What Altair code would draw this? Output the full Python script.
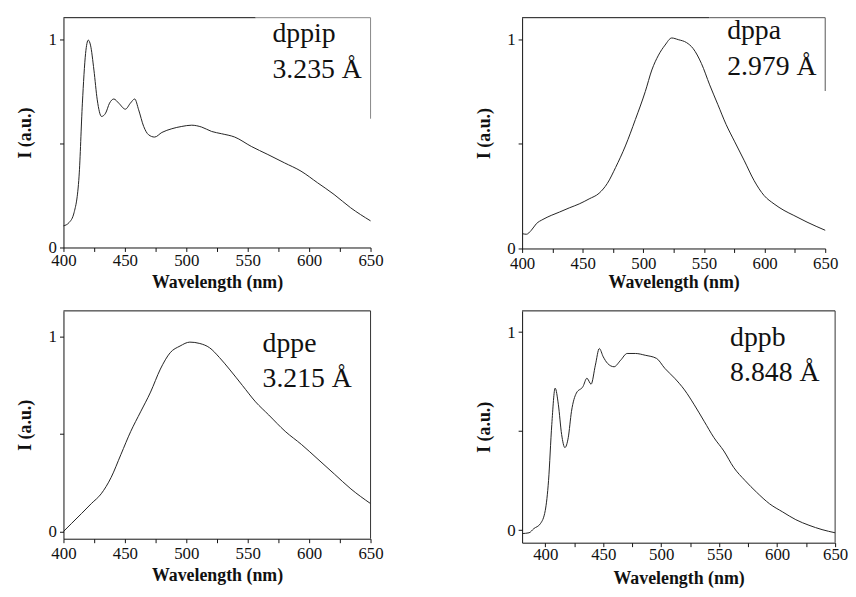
import altair as alt
import pandas as pd

# ---------- data ----------
dppip_wl = [400, 404.6, 408.6, 412.7, 415.4, 418, 420.2, 422, 424.8, 427.5, 431, 434.3, 437.5, 441, 445,
            450.4, 454.5, 458, 461.2, 465.3, 469.3, 474.2, 480.1, 488.2, 496.3, 504.4, 512.5, 520.6, 528.7,
            539.4, 552.9, 566.4, 579.9, 593.4, 606.9, 620.3, 633.8, 650]
dppip_i = [0.104, 0.12, 0.167, 0.343, 0.694, 0.933, 0.997, 0.973, 0.853, 0.71, 0.63, 0.646, 0.694, 0.714, 0.694,
           0.665, 0.694, 0.714, 0.662, 0.582, 0.542, 0.531, 0.553, 0.571, 0.582, 0.588, 0.579, 0.558, 0.547,
           0.531, 0.486, 0.447, 0.407, 0.367, 0.311, 0.255, 0.191, 0.128]

dppa_wl = [400, 403.5, 407.6, 411.7, 417.2, 424, 430.8, 438.9, 447.1, 455.3, 463.5, 470.3, 477.1, 485.2, 493.4,
           501.6, 507, 512.5, 517.9, 523.4, 528.8, 535.6, 541, 547.9, 554.7, 561.5, 568.3, 575.1, 583.3, 591.4,
           599.6, 607.8, 616, 624.1, 635, 650]
dppa_i = [0.071, 0.068, 0.087, 0.118, 0.139, 0.158, 0.174, 0.194, 0.213, 0.237, 0.264, 0.311, 0.387, 0.49, 0.616,
          0.75, 0.853, 0.924, 0.972, 1.006, 0.998, 0.984, 0.956, 0.884, 0.782, 0.687, 0.592, 0.513, 0.419, 0.324,
          0.253, 0.213, 0.182, 0.158, 0.126, 0.087]

dppe_wl = [400, 406.7, 414.7, 422.7, 430.7, 438.8, 446.8, 454.8, 462.8, 470.9, 478.9, 486.9, 494.9, 502.9, 511,
           519, 527, 535, 545.7, 556.4, 567.1, 580.5, 593.9, 607.2, 620.6, 634, 650]
dppe_i = [0.0, 0.042, 0.092, 0.143, 0.193, 0.277, 0.395, 0.513, 0.613, 0.714, 0.832, 0.916, 0.95, 0.97, 0.963,
          0.941, 0.891, 0.832, 0.748, 0.664, 0.597, 0.513, 0.445, 0.37, 0.294, 0.218, 0.143]

dppb_wl = [380, 386, 390.1, 395.8, 400, 402.8, 405.6, 408.5, 411.3, 414.1, 416.9, 419.8, 422.6, 426.8, 432.5,
           435.9, 439.5, 443.2, 446.6, 450, 453.7, 459.3, 465, 470.6, 477.7, 486.2, 496, 503.1, 511.6, 520.1,
           528.5, 537, 545.5, 554, 562.5, 572.4, 582.2, 593.5, 604.8, 616.1, 627.4, 638.7, 650]
dppb_i = [-0.017, -0.013, 0.008, 0.033, 0.1, 0.25, 0.533, 0.717, 0.633, 0.483, 0.417, 0.467, 0.6, 0.692, 0.725,
          0.767, 0.737, 0.833, 0.917, 0.875, 0.842, 0.825, 0.858, 0.892, 0.892, 0.883, 0.867, 0.817, 0.767, 0.708,
          0.633, 0.55, 0.467, 0.4, 0.317, 0.25, 0.192, 0.133, 0.092, 0.053, 0.025, 0.003, -0.013]

names = ["dppip", "dppa", "dppe", "dppb"]
distances = ["3.235 Å", "2.979 Å", "3.215 Å", "8.848 Å"]
x_ticks = [400, 425, 450, 475, 500, 525, 550, 575, 600, 625, 650]
y_ticks = [0, 0.5, 1]

SERIF = "Liberation Serif"
INK = "#111111"
one = pd.DataFrame({"a": [0]})


def panel(wl, inten, name, dist, xdom, ydom, w, h, lab_pad, tit_pad, txt_x, txt_y,
          top_black, right_len, frame_col):
    df = pd.DataFrame({"wl": wl, "I": inten})
    line = alt.Chart(df).mark_line(color="#222222", strokeWidth=1, interpolate="monotone").encode(
        x=alt.X("wl:Q", scale=alt.Scale(domain=xdom, nice=False, zero=False),
                axis=alt.Axis(values=x_ticks, title="Wavelength (nm)",
                              labelExpr="datum.value % 50 == 0 ? datum.label : ''",
                              labelFlush=False, labelFont=SERIF, labelFontSize=17,
                              titleFont=SERIF, titleFontSize=18, titleFontWeight="bold",
                              labelPadding=lab_pad, titlePadding=tit_pad, grid=False)),
        y=alt.Y("I:Q", scale=alt.Scale(domain=ydom, nice=False, zero=False),
                axis=alt.Axis(values=y_ticks, title="I (a.u.)",
                              labelExpr="datum.value == 0 ? '0' : (datum.value == 1 ? '1' : '')",
                              labelFont=SERIF, labelFontSize=17,
                              titleFont=SERIF, titleFontSize=18, titleFontWeight="bold",
                              minExtent=18, maxExtent=18, titlePadding=11, labelPadding=3, grid=False)),
    )
    txt = alt.Chart(one).mark_text(align="left", baseline="alphabetic", font=SERIF, fontSize=28,
                                   lineHeight=36, color=INK, text=[name, dist]).encode(
        x=alt.value(txt_x), y=alt.value(txt_y))
    top1 = alt.Chart(one).mark_rule(color=INK, strokeWidth=1).encode(
        x=alt.value(0), x2=alt.value(top_black), y=alt.value(0))
    top2 = alt.Chart(one).mark_rule(color=frame_col, strokeWidth=1).encode(
        x=alt.value(top_black), x2=alt.value(w), y=alt.value(0))
    right = alt.Chart(one).mark_rule(color=frame_col, strokeWidth=1).encode(
        x=alt.value(w), y=alt.value(0), y2=alt.value(right_len))
    return alt.layer(line, txt, top1, top2, right).properties(width=w, height=h)


p1 = panel(dppip_wl, dppip_i, names[0], distances[0], [400, 650], [0, 1.105], 310, 232, 1, 5,
           211, 25, 194, 102, "#888888")
p2 = panel(dppa_wl, dppa_i, names[1], distances[1], [400, 650], [0, 1.103], 306, 233, 3, 2,
           207, 22, 189, 74, "#555555")
p3 = panel(dppe_wl, dppe_i, names[2], distances[2], [400, 650], [-0.037, 1.13], 310, 230, 3, 5,
           201, 41, 310, 230, "#333333")
p4 = panel(dppb_wl, dppb_i, names[3], distances[3], [380, 650], [-0.063, 1.107], 316, 234, 0, 7,
           210, 35, 316, 234, "#333333")

chart = alt.concat(p1, p2, p3, p4, columns=2, spacing=alt.RowColnumber(row=63, column=153),
                   bounds="flush").properties(
    padding={"left": 9, "top": 6, "right": 0, "bottom": 0}
).configure_view(stroke=None).configure_axis(
    domainColor=INK, tickColor=INK, tickSize=4, domainWidth=1, tickWidth=1,
    labelColor=INK, titleColor=INK,
)

chart.save("out.html", embed_options={"renderer": "svg", "actions": False})
